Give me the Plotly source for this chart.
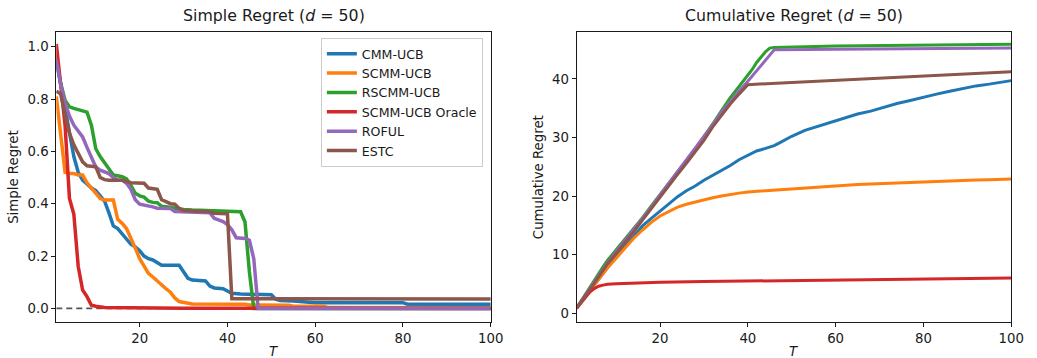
import plotly.graph_objects as go

# ---------------- simple regret (left panel) ----------------
NAMES = ["CMM-UCB", "SCMM-UCB", "RSCMM-UCB", "SCMM-UCB Oracle", "ROFUL", "ESTC"]
COLORS = ["#1f77b4", "#ff7f0e", "#2ca02c", "#d62728", "#9467bd", "#8c564b"]

cmm_t = [1, 2, 3, 4, 5, 6, 7, 8, 9, 10, 11, 12, 13, 14, 15, 16, 17, 18, 19, 20, 21, 22, 23, 24, 25,
         29, 30, 31, 32, 35, 36, 37, 39, 40, 41, 43, 50, 51, 52, 55, 60, 80, 81, 100]
cmm_simple = [0.95, 0.86, 0.77, 0.68, 0.58, 0.52, 0.49, 0.475, 0.46, 0.45, 0.43, 0.41, 0.365, 0.315,
              0.305, 0.285, 0.26, 0.245, 0.235, 0.22, 0.20, 0.19, 0.185, 0.175, 0.165,
              0.165, 0.14, 0.115, 0.108, 0.105, 0.085, 0.078, 0.075, 0.065, 0.058, 0.055, 0.052,
              0.035, 0.03, 0.028, 0.022, 0.022, 0.016, 0.016]

scmm_t = [1, 2, 3, 4, 5, 6, 7, 8, 9, 10, 11, 12, 14, 15, 16, 17, 18, 19, 20, 21, 22, 23, 24, 25,
          26, 27, 28, 29, 30, 31, 32, 44, 45, 54, 55, 62, 63, 100]
scmm_simple = [0.81, 0.67, 0.52, 0.515, 0.515, 0.51, 0.51, 0.48, 0.46, 0.445, 0.42, 0.414, 0.414,
               0.34, 0.325, 0.305, 0.27, 0.23, 0.19, 0.165, 0.134, 0.12, 0.104, 0.09, 0.075, 0.062,
               0.04, 0.026, 0.022, 0.02, 0.017, 0.016, 0.013, 0.012, 0.008, 0.008, 0.003, 0.002]

rscmm_t = [1, 2, 3, 4, 5, 6, 7, 8, 9, 10, 11, 12, 13, 14, 16, 17, 18, 19, 20, 21, 22, 23, 24, 25,
           26, 28, 30, 32, 43, 44, 45, 46, 100]
rscmm_simple = [0.95, 0.86, 0.795, 0.77, 0.764, 0.76, 0.755, 0.75, 0.70, 0.61, 0.58, 0.555, 0.53,
                0.51, 0.503, 0.495, 0.47, 0.44, 0.43, 0.425, 0.41, 0.405, 0.404, 0.39, 0.388,
                0.382, 0.378, 0.376, 0.369, 0.33, 0.14, 0.0, 0.0]

oracle_t = [1, 2, 3, 4, 5, 6, 7, 8, 9, 10, 11, 12, 30, 100]
oracle_simple = [1.01, 0.86, 0.70, 0.42, 0.36, 0.16, 0.07, 0.045, 0.012, 0.008, 0.005, 0.003,
                 0.001, 0.0]

roful_t = [1, 2, 3, 4, 5, 6, 7, 8, 9, 10, 11, 12, 13, 14, 15, 16, 17, 18, 19, 20, 21, 22, 23, 24,
           25, 27, 28, 36, 37, 39, 40, 41, 42, 44, 45, 46, 47, 100]
roful_simple = [0.95, 0.855, 0.785, 0.735, 0.70, 0.68, 0.655, 0.615, 0.575, 0.54, 0.528, 0.522,
                0.515, 0.50, 0.49, 0.49, 0.478, 0.455, 0.415, 0.398, 0.395, 0.393, 0.388, 0.383,
                0.382, 0.382, 0.37, 0.365, 0.344, 0.332, 0.32, 0.30, 0.27, 0.267, 0.26, 0.19,
                0.0, 0.0]

estc_t = [1, 2, 3, 4, 5, 6, 7, 8, 10, 11, 12, 13, 16, 17, 18, 21, 22, 24, 25, 26, 27, 28, 29, 30,
          36, 37, 40, 41, 100]
estc_simple = [0.83, 0.82, 0.74, 0.67, 0.625, 0.59, 0.56, 0.545, 0.541, 0.50, 0.492, 0.49, 0.49,
               0.485, 0.48, 0.478, 0.46, 0.455, 0.415, 0.408, 0.40, 0.398, 0.382, 0.374, 0.369,
               0.363, 0.362, 0.037, 0.036]

# ---------------- cumulative regret (right panel) ----------------
cmm_ct = [1, 2, 3, 4, 5, 6, 7, 8, 10, 12, 14, 16, 18, 20, 22, 24, 26, 28, 30, 32, 34, 36, 38, 40,
          41, 42, 43, 44, 45, 46, 47, 50, 53, 56, 59, 62, 65, 68, 71, 74, 77, 80, 83, 86, 89, 92,
          95, 98, 100]
cmm_cum = [0.9, 1.9, 2.9, 3.9, 4.9, 5.85, 6.8, 7.75, 9.6, 11.4, 13.1, 14.9, 16.2, 17.4, 18.7, 19.9,
           20.9, 21.7, 22.7, 23.5, 24.3, 25.2, 26.2, 27.0, 27.4, 27.7, 27.9, 28.1, 28.3, 28.6, 29.0,
           30.2, 31.2, 31.9, 32.7, 33.4, 34.0, 34.5, 35.2, 35.8, 36.3, 36.9, 37.4, 37.9, 38.4,
           38.8, 39.1, 39.4, 39.7]

scmm_ct = cmm_ct
scmm_cum = [0.85, 1.85, 2.85, 3.85, 4.85, 5.8, 6.75, 7.7, 9.4, 11.2, 12.8, 14.2, 15.5, 16.6, 17.4,
            18.1, 18.6, 19.0, 19.4, 19.7, 20.0, 20.3, 20.5, 20.7, 20.75, 20.8, 20.85, 20.9, 21.0,
            21.05, 21.1, 21.3, 21.45, 21.6, 21.75, 21.85, 21.95, 22.05, 22.15, 22.25, 22.35,
            22.45, 22.55, 22.6, 22.7, 22.75, 22.8, 22.85, 22.9]

rscmm_ct = [1, 2, 3, 4, 5, 6, 7, 8, 10, 12, 14, 16, 18, 20, 22, 24, 26, 28, 30, 32, 34, 36, 38, 40,
            41, 42, 43, 44, 45, 46, 60, 80, 100]
rscmm_cum = [0.9, 2.1, 3.3, 4.5, 5.6, 6.8, 7.9, 9.0, 10.8, 12.6, 14.4, 16.3, 18.3, 20.3, 22.2, 24.1,
             26.1, 28.0, 30.1, 32.3, 34.6, 36.8, 38.7, 40.6, 41.6, 42.8, 43.8, 44.6, 45.25, 45.35,
             45.6, 45.8, 45.92]

oracle_ct = [1, 2, 3, 4, 5, 6, 7, 8, 10, 12, 14, 16, 20, 30, 40, 50, 60, 70, 80, 90, 100]
oracle_cum = [0.85, 1.8, 2.75, 3.6, 4.2, 4.6, 4.8, 4.95, 5.05, 5.1, 5.15, 5.2, 5.28, 5.4, 5.5, 5.6,
              5.7, 5.8, 5.88, 5.95, 6.02]

roful_ct = [1, 2, 3, 4, 5, 6, 7, 8, 10, 12, 14, 16, 18, 20, 22, 24, 26, 28, 30, 32, 34, 36, 38, 40,
            41, 42, 43, 44, 45, 46, 60, 80, 100]
roful_cum = [0.95, 2.0, 3.1, 4.2, 5.3, 6.4, 7.5, 8.6, 10.5, 12.4, 14.2, 16.1, 18.1, 20.2, 22.2, 24.1,
             26.1, 28.0, 30.1, 32.2, 34.3, 36.2, 37.9, 39.6, 40.5, 41.4, 42.3, 43.2, 44.1, 44.95,
             45.05, 45.15, 45.25]

estc_ct = [1, 2, 3, 4, 5, 6, 7, 8, 10, 12, 14, 16, 18, 20, 22, 24, 26, 28, 30, 32, 34, 36, 38, 40,
           50, 60, 70, 80, 90, 100]
estc_cum = [0.9, 1.9, 2.9, 4.0, 5.1, 6.2, 7.3, 8.4, 10.2, 12.0, 13.9, 15.9, 17.9, 19.9, 21.8, 23.7,
            25.6, 27.5, 29.5, 31.8, 33.8, 35.7, 37.4, 39.0, 39.4, 39.75, 40.1, 40.5, 40.85, 41.2]

SIMPLE = [(cmm_t, cmm_simple), (scmm_t, scmm_simple), (rscmm_t, rscmm_simple),
          (oracle_t, oracle_simple), (roful_t, roful_simple), (estc_t, estc_simple)]
CUMULATIVE = [(cmm_ct, cmm_cum), (scmm_ct, scmm_cum), (rscmm_ct, rscmm_cum),
              (oracle_ct, oracle_cum), (roful_ct, roful_cum), (estc_ct, estc_cum)]

X_TICKS = [20, 40, 60, 80, 100]
SIMPLE_TICKS = [0.0, 0.2, 0.4, 0.6, 0.8, 1.0]
CUM_TICKS = [0, 10, 20, 30, 40]

W, H = 1037, 358
FONT = "DejaVu Sans"
INK = "#1a1a1a"
FS = 13.3        # tick and axis-label size
FS_LEGEND = 12.6
FS_TITLE = 15.8  # panel title size

fig = go.Figure()

# zero reference line under the curves
fig.add_trace(go.Scatter(x=[1, 100], y=[0, 0], mode="lines", xaxis="x", yaxis="y",
                         line=dict(color="#555555", width=1.6, dash="6px,4px"),
                         showlegend=False, hoverinfo="skip"))

for name, color, (t, v) in zip(NAMES, COLORS, SIMPLE):
    fig.add_trace(go.Scatter(x=t, y=v, mode="lines", name=name, xaxis="x", yaxis="y",
                             line=dict(color=color, width=3.5)))

for name, color, (t, v) in zip(NAMES, COLORS, CUMULATIVE):
    fig.add_trace(go.Scatter(x=t, y=v, mode="lines", name=name, xaxis="x2", yaxis="y2",
                             line=dict(color=color, width=3), showlegend=False))

# panel placement in pixels
L1, R1 = 57, 497
L2, R2 = 584, 1024
TOP, BOT = 32, 322


def px_x(p):
    return p / W


def px_y(p):
    return 1 - p / H


axis_common = dict(showline=True, mirror=True, linecolor=INK, linewidth=1,
                   ticks="outside", ticklen=4, tickwidth=1, tickcolor=INK,
                   showgrid=False, zeroline=False,
                   tickfont=dict(family=FONT, size=FS, color=INK))

fig.update_layout(
    width=W, height=H,
    margin=dict(l=0, r=0, t=0, b=0),
    paper_bgcolor="white", plot_bgcolor="white",
    font=dict(family=FONT, size=FS, color=INK),
    xaxis=dict(domain=[px_x(L1), px_x(R1)], range=[1, 100], tickvals=X_TICKS,
               anchor="y", **axis_common),
    yaxis=dict(domain=[px_y(BOT), px_y(TOP)], range=[-0.052, 1.056], tickvals=SIMPLE_TICKS,
               tickformat=".1f", anchor="x", **axis_common),
    xaxis2=dict(domain=[px_x(L2), px_x(R2)], range=[1, 100], tickvals=X_TICKS,
                anchor="y2", **axis_common),
    yaxis2=dict(domain=[px_y(BOT), px_y(TOP)], range=[-1.5, 48.0], tickvals=CUM_TICKS,
                anchor="x2", **axis_common),
    legend=dict(x=px_x(489), y=px_y(38), xanchor="right", yanchor="top",
                bgcolor="rgba(255,255,255,0.8)", bordercolor="#cccccc", borderwidth=1,
                font=dict(family=FONT, size=FS_LEGEND, color=INK), itemwidth=30,
                tracegroupgap=0),
    showlegend=True,
)

cx1 = px_x((L1 + R1) / 2)
cx2 = px_x((L2 + R2) / 2)
annotations = [
    dict(text="Simple Regret (<i>d</i> = 50)", x=cx1, y=px_y(16)),
    dict(text="Cumulative Regret (<i>d</i> = 50)", x=cx2, y=px_y(16)),
]
for a in annotations:
    a.update(xref="paper", yref="paper", showarrow=False, xanchor="center", yanchor="middle",
             font=dict(family=FONT, size=FS_TITLE, color=INK))
annotations += [
    dict(text="<i>T</i>", x=cx1, y=px_y(351), xref="paper", yref="paper", showarrow=False,
         xanchor="center", yanchor="middle", font=dict(family=FONT, size=FS, color=INK)),
    dict(text="<i>T</i>", x=cx2, y=px_y(351), xref="paper", yref="paper", showarrow=False,
         xanchor="center", yanchor="middle", font=dict(family=FONT, size=FS, color=INK)),
    dict(text="Simple Regret", x=px_x(14), y=px_y((TOP + BOT) / 2), xref="paper", yref="paper",
         showarrow=False, textangle=-90, xanchor="center", yanchor="middle",
         font=dict(family=FONT, size=FS, color=INK)),
    dict(text="Cumulative Regret", x=px_x(546), y=px_y((TOP + BOT) / 2), xref="paper",
         yref="paper", showarrow=False, textangle=-90, xanchor="center", yanchor="middle",
         font=dict(family=FONT, size=FS, color=INK)),
]
fig.update_layout(annotations=annotations)

fig.write_html("out.html")
